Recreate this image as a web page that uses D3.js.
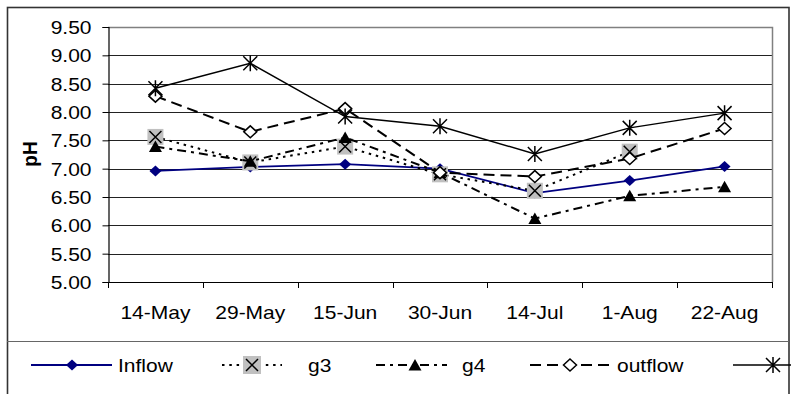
<!DOCTYPE html>
<html>
<head>
<meta charset="utf-8">
<script src="https://cdn.jsdelivr.net/npm/d3@7"></script>
<style>
  html, body { margin: 0; padding: 0; background: #fff; }
  svg { display: block; font-family: "Liberation Sans", Arial, sans-serif; }
</style>
</head>
<body>
<svg id="chart" width="791" height="394"></svg>
<script>
// Sampling dates
const dates = ["14-May", "29-May", "15-Jun", "30-Jun", "14-Jul", "1-Aug", "22-Aug"];

// pH readings per sampling point
const inflow  = [6.96, 7.03, 7.08, 7.00, 6.57, 6.79, 7.04];
const g3      = [7.56, 7.11, 7.39, 6.90, 6.61, 7.30, null];
const g4      = [7.39, 7.13, 7.55, 6.93, 6.12, 6.52, 6.68];
const outflow = [8.28, 7.65, 8.06, 6.93, 6.86, 7.18, 7.71];
const g5      = [8.42, 8.86, 7.92, 7.75, 7.26, 7.72, 7.98];

const seriesNames = ["Inflow", "g3", "g4", "outflow", "g5"];
const yTicks = [5.0, 5.5, 6.0, 6.5, 7.0, 7.5, 8.0, 8.5, 9.0, 9.5];
const yTitle = "pH";

const series = [
  { name: seriesNames[0], values: inflow,  color: "#000080", width: 1.8, dash: null,          marker: "diamondFilled" },
  { name: seriesNames[1], values: g3,      color: "#000",    width: 2,   dash: "2.5,4.8",     marker: "squareX" },
  { name: seriesNames[2], values: g4,      color: "#000",    width: 2,   dash: "9,5,3,5",     marker: "triangle" },
  { name: seriesNames[3], values: outflow, color: "#000",    width: 2,   dash: "11,6",        marker: "diamondOpen" },
  { name: seriesNames[4], values: g5,      color: "#000",    width: 1.5, dash: null,          marker: "star" }
];

const svg = d3.select("#chart");
const W = 791;
const plot = { left: 108, right: 772, top: 27, bottom: 282 };
const TX = 1.13; // horizontal text stretch

const x = d3.scaleBand().domain(dates).range([plot.left, plot.right]).padding(0);
const cx = d => x(d) + x.bandwidth() / 2;
const y = d3.scaleLinear().domain([5, 9.5]).range([plot.bottom, plot.top]);

// Outer chart frame
svg.append("rect")
  .attr("x", 7.5).attr("y", 7.5).attr("width", 781.5).attr("height", 400)
  .attr("fill", "none").attr("stroke", "#333").attr("stroke-width", 1.6);

// Gridlines
svg.append("g").selectAll("line")
  .data(yTicks.filter(t => t > 5 && t < 9.5))
  .join("line")
  .attr("x1", plot.left).attr("x2", plot.right)
  .attr("y1", d => Math.round(y(d)) + 0.5).attr("y2", d => Math.round(y(d)) + 0.5)
  .attr("stroke", "#222").attr("stroke-width", 1);

// Plot frame (top and right)
svg.append("path")
  .attr("d", `M${plot.left},${Math.round(y(9.5)) + 0.5}H${plot.right + 0.5}V${plot.bottom}`)
  .attr("fill", "none").attr("stroke", "#808080").attr("stroke-width", 1.5);

// Y axis
const yAxis = d3.axisLeft(y).tickValues(yTicks).tickSize(6).tickPadding(11)
  .tickFormat(d3.format(".2f"));
const gy = svg.append("g").attr("transform", `translate(${plot.left + 0.5},0)`).call(yAxis);
gy.select(".domain").attr("stroke", "#000").attr("stroke-width", 1.2);
gy.selectAll(".tick line").attr("stroke", "#000");
gy.selectAll(".tick text").remove();
gy.selectAll(".tick").append("g")
  .attr("transform", `translate(-17,0) scale(${TX},1)`)
  .append("text")
  .attr("text-anchor", "end").attr("dy", "0.35em")
  .attr("font-size", 18.6).attr("fill", "#000")
  .text(d => d3.format(".2f")(d));

// X axis line and boundary ticks
svg.append("line")
  .attr("x1", plot.left).attr("x2", plot.right + 0.5)
  .attr("y1", plot.bottom + 0.5).attr("y2", plot.bottom + 0.5)
  .attr("stroke", "#000").attr("stroke-width", 1.2);
const edges = dates.map(d => x(d)).concat([plot.right]);
svg.append("g").selectAll("line").data(edges).join("line")
  .attr("x1", d => Math.round(d) + 0.5).attr("x2", d => Math.round(d) + 0.5)
  .attr("y1", plot.bottom).attr("y2", plot.bottom + 6)
  .attr("stroke", "#000").attr("stroke-width", 1);
svg.append("g").selectAll("g").data(dates).join("g")
  .attr("transform", d => `translate(${cx(d)},319) scale(${TX},1)`)
  .append("text")
  .attr("text-anchor", "middle").attr("font-size", 18.6).attr("fill", "#000")
  .text(d => d);

// Y title
svg.append("text")
  .attr("transform", "translate(37,154) rotate(-90) scale(1,1.1)")
  .attr("text-anchor", "middle").attr("font-size", 19).attr("font-weight", "bold")
  .text(yTitle);

// Marker drawing
function drawMarker(g, type, color) {
  if (type === "diamondFilled") {
    g.append("path").attr("d", "M0,-5.5L6,0L0,5.5L-6,0Z").attr("fill", color);
  } else if (type === "diamondOpen") {
    g.append("path").attr("d", "M0,-6L6.5,0L0,6L-6.5,0Z")
      .attr("fill", "#fff").attr("stroke", "#000").attr("stroke-width", 1.5);
  } else if (type === "triangle") {
    g.append("path").attr("d", "M0,-6L6.5,5.5L-6.5,5.5Z").attr("fill", "#000");
  } else if (type === "squareX") {
    g.append("rect").attr("x", -8).attr("y", -8).attr("width", 16).attr("height", 16).attr("fill", "#c0c0c0");
    g.append("path").attr("d", "M-6,-6L6,6M6,-6L-6,6").attr("stroke", "#000").attr("stroke-width", 1.5);
  } else if (type === "star") {
    g.append("path").attr("d", "M-7,-7L7,7M7,-7L-7,7M0,-8V8")
      .attr("stroke", "#000").attr("stroke-width", 1.5).attr("fill", "none");
  }
}

const line = d3.line()
  .defined(d => d.v != null)
  .x(d => cx(d.date))
  .y(d => y(d.v));

series.forEach(s => {
  const pts = dates.map((date, i) => ({ date, v: s.values[i] }));
  const g = svg.append("g");
  g.append("path")
    .attr("d", line(pts))
    .attr("fill", "none").attr("stroke", s.color).attr("stroke-width", s.width)
    .attr("stroke-dasharray", s.dash);
  pts.filter(p => p.v != null).forEach(p => {
    const m = g.append("g").attr("transform", `translate(${cx(p.date)},${y(p.v)})`);
    drawMarker(m, s.marker, s.color);
  });
});

// Legend (its box runs past the right edge, so the last entry's label falls outside)
svg.append("line").attr("x1", 7).attr("x2", 789).attr("y1", 341.5).attr("y2", 341.5)
  .attr("stroke", "#666").attr("stroke-width", 1.2);
const legendItems = [
  { x0: 31,  x1: 112, mx: 72,  tx: 118 },
  { x0: 222, x1: 282, mx: 252, tx: 308 },
  { x0: 376, x1: 447, mx: 415, tx: 462 },
  { x0: 530, x1: 610, mx: 570, tx: 617 },
  { x0: 733, x1: 800, mx: 773, tx: 810 }
];
const legend = svg.append("g");
series.forEach((s, i) => {
  const L = legendItems[i];
  const ly = 365;
  legend.append("line")
    .attr("x1", L.x0).attr("x2", L.x1).attr("y1", ly).attr("y2", ly)
    .attr("stroke", s.color).attr("stroke-width", s.width).attr("stroke-dasharray", s.dash);
  const m = legend.append("g").attr("transform", `translate(${L.mx},${ly})`);
  if (s.marker === "squareX") {
    m.append("rect").attr("x", -9).attr("y", -9).attr("width", 18).attr("height", 18).attr("fill", "#c0c0c0");
    m.append("path").attr("d", "M-6,-6L6,6M6,-6L-6,6").attr("stroke", "#000").attr("stroke-width", 1.5);
  } else {
    drawMarker(m, s.marker, s.color);
  }
  if (L.tx < W) {
    legend.append("g").attr("transform", `translate(${L.tx},${ly + 7}) scale(${TX},1)`)
      .append("text").attr("font-size", 18.6).attr("fill", "#000").text(s.name);
  }
});
</script>
</body>
</html>
